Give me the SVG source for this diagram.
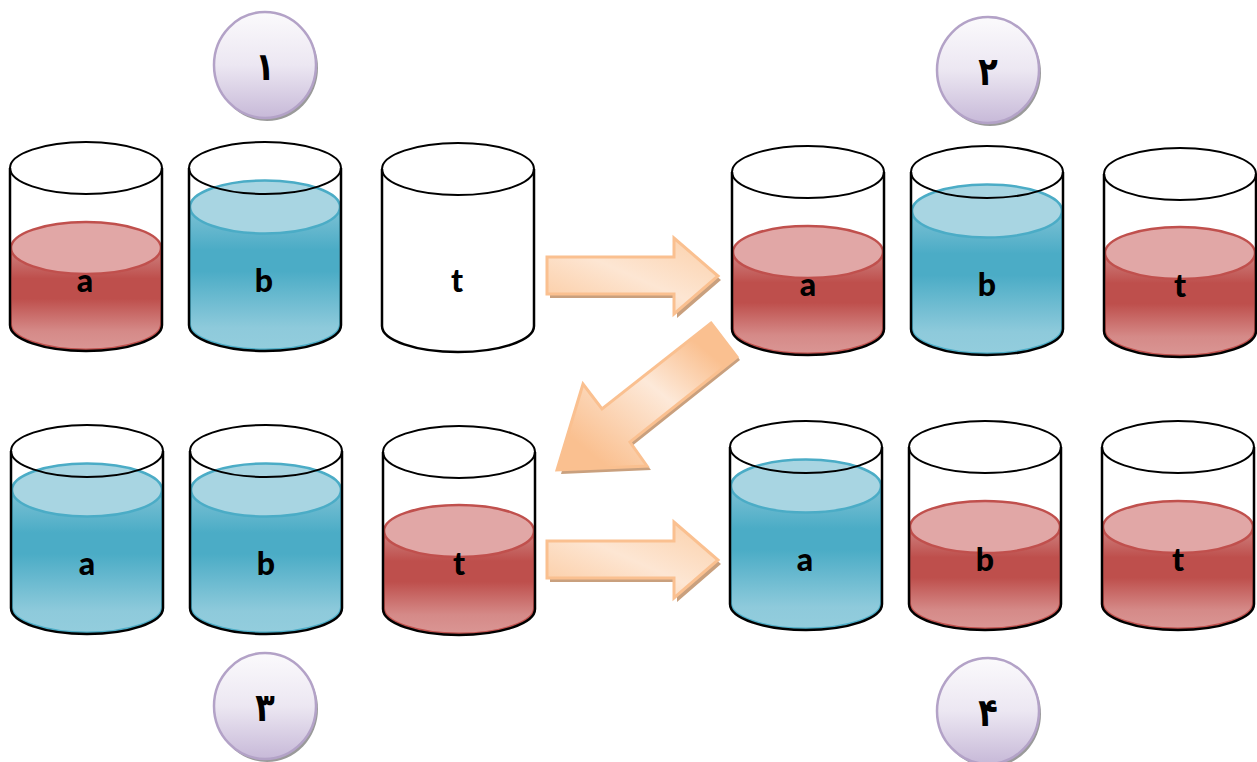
<svg xmlns="http://www.w3.org/2000/svg" width="1257" height="762" viewBox="0 0 1257 762">
<style>
.lbl{font-family:"Lato","Open Sans",sans-serif;font-weight:900;font-size:32px;fill:#000;text-anchor:middle}
.num{font-family:"DejaVu Sans","Noto Sans",sans-serif;font-weight:700;font-size:39px;fill:#000;text-anchor:middle}
.rim{fill:none;stroke:#000;stroke-width:2}
.base{fill:none;stroke:#000;stroke-width:2.5}
.badge{fill:url(#gBadge);stroke:#b3a2c7;stroke-width:2.5}
.badgeS{fill:#9a9a9a}
.arrow{stroke:#fac090;stroke-width:3;stroke-linejoin:miter}
.arrowS{fill:#c9a07e}
</style>
<defs>
<linearGradient id="gRed" x1="0" y1="0" x2="0" y2="1">
<stop offset="0" stop-color="#cf8583"/><stop offset=".3" stop-color="#be4f4c"/><stop offset=".5" stop-color="#be4f4c"/><stop offset=".82" stop-color="#d58a88"/><stop offset="1" stop-color="#da9694"/>
</linearGradient>
<linearGradient id="gBlue" x1="0" y1="0" x2="0" y2="1">
<stop offset="0" stop-color="#7fc2d5"/><stop offset=".3" stop-color="#4bacc6"/><stop offset=".45" stop-color="#4bacc6"/><stop offset=".85" stop-color="#8ecadb"/><stop offset="1" stop-color="#93cddd"/>
</linearGradient>
<linearGradient id="gBadge" x1="0" y1="0" x2="0" y2="1">
<stop offset="0" stop-color="#fbfafc"/><stop offset=".5" stop-color="#ece7f2"/><stop offset="1" stop-color="#c7b9d8"/>
</linearGradient>
<linearGradient id="gArrow" x1="0" y1="1" x2="1" y2="0">
<stop offset="0" stop-color="#fbc99e"/><stop offset=".5" stop-color="#fde6d3"/><stop offset="1" stop-color="#fbcfa8"/>
</linearGradient>
<linearGradient id="gDiag" x1="0" y1="1" x2="1" y2="0">
<stop offset=".15" stop-color="#fac090"/><stop offset=".55" stop-color="#fde9d9"/><stop offset=".82" stop-color="#fac090"/>
</linearGradient>
<g id="beaker"><path class="base" d="M0,26V183A76,26 0 0 0 152,183V26"/><ellipse class="rim" cx="76" cy="26" rx="76" ry="26"/></g>
<g id="red">
<path d="M1,106V182A75,25.5 0 0 0 151,182V106Z" fill="url(#gRed)" stroke="#c0504d" stroke-width="2"/>
<ellipse cx="76" cy="106" rx="75" ry="26" fill="#e1a7a6" stroke="#c0504d" stroke-width="2.5"/>
</g>
<g id="redT">
<path d="M1,104V182A75,25.5 0 0 0 151,182V104Z" fill="url(#gRed)" stroke="#c0504d" stroke-width="2"/>
<ellipse cx="76" cy="105" rx="75" ry="26" fill="#e1a7a6" stroke="#c0504d" stroke-width="2.5"/>
</g>
<g id="blue">
<path d="M1,65V182A75,25.5 0 0 0 151,182V65Z" fill="url(#gBlue)" stroke="#4bacc6" stroke-width="2"/>
<ellipse cx="76" cy="65" rx="75" ry="26.500" fill="#a8d5e2" stroke="#4bacc6" stroke-width="2.5"/>
</g>
<path id="arrowR" d="M547,257H674V238L718,276L674,314V294H547Z"/>
<g id="badgeShape"><ellipse class="badgeS" cx="2" cy="3" rx="51" ry="53"/><ellipse class="badge" cx="0" cy="0" rx="51" ry="53"/></g>
</defs>

<g id="badge-1" transform="translate(265,65)"><use href="#badgeShape"/><text class="num" transform="translate(0,15) scale(.82,1)">۱</text></g>
<g id="badge-2" transform="translate(988,70)"><use href="#badgeShape"/><text class="num" transform="translate(0,15) scale(.82,1)">۲</text></g>
<g id="badge-3" transform="translate(265,706)"><use href="#badgeShape"/><text class="num" transform="translate(0,15) scale(.82,1)">۳</text></g>
<g id="badge-4" transform="translate(988,711)"><use href="#badgeShape"/><text class="num" transform="translate(0,15) scale(.82,1)">۴</text></g>

<g id="s1-a" transform="translate(10,142)"><use href="#red"/><use href="#beaker"/><text class="lbl" x="75" y="150">a</text></g>
<g id="s1-b" transform="translate(189,142)"><use href="#blue"/><use href="#beaker"/><text class="lbl" x="75" y="150">b</text></g>
<g id="s1-t" transform="translate(382,143)"><use href="#beaker"/><text class="lbl" x="75" y="149">t</text></g>
<g id="s2-a" transform="translate(732,146)"><use href="#red"/><use href="#beaker"/><text class="lbl" x="76" y="150">a</text></g>
<g id="s2-b" transform="translate(911,146)"><use href="#blue"/><use href="#beaker"/><text class="lbl" x="76" y="150">b</text></g>
<g id="s2-t" transform="translate(1104,148)"><use href="#redT"/><use href="#beaker"/><text class="lbl" x="76" y="149">t</text></g>
<g id="s3-a" transform="translate(11,425)"><use href="#blue"/><use href="#beaker"/><text class="lbl" x="76" y="150">a</text></g>
<g id="s3-b" transform="translate(190,425)"><use href="#blue"/><use href="#beaker"/><text class="lbl" x="76" y="150">b</text></g>
<g id="s3-t" transform="translate(383,426)"><use href="#redT"/><use href="#beaker"/><text class="lbl" x="76" y="149">t</text></g>
<g id="s4-a" transform="translate(730,421)"><use href="#blue"/><use href="#beaker"/><text class="lbl" x="75" y="150">a</text></g>
<g id="s4-b" transform="translate(909,421)"><use href="#red"/><use href="#beaker"/><text class="lbl" x="76" y="150">b</text></g>
<g id="s4-t" transform="translate(1102,421)"><use href="#red"/><use href="#beaker"/><text class="lbl" x="76" y="150">t</text></g>

<g id="connectors">
<g id="arrow-1"><use href="#arrowR" class="arrowS" x="3" y="4"/><use href="#arrowR" class="arrow" fill="url(#gArrow)"/></g>
<g id="arrow-2"><path class="arrowS" d="M714,326L740,360L632,446L651,470L561,474L586,387L605,412Z"/><path class="arrow" fill="url(#gDiag)" d="M711,323L737,357L630,442L647,466L557,470L583,384L602,409Z"/></g>
<g id="arrow-3"><use href="#arrowR" class="arrowS" x="3" y="288"/><use href="#arrowR" class="arrow" fill="url(#gArrow)" y="284"/></g>
</g>
</svg>
